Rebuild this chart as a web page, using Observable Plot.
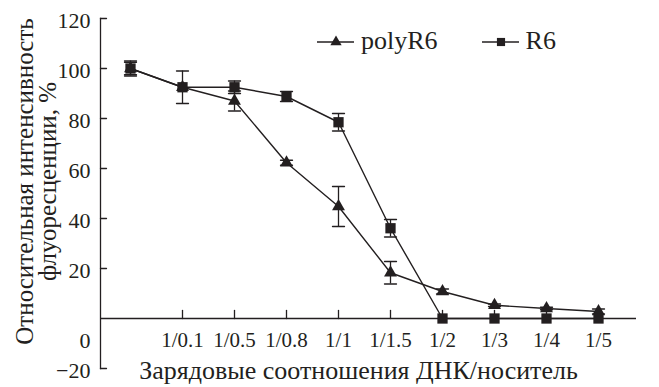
<!DOCTYPE html>
<html><head><meta charset="utf-8">
<script src="https://cdn.jsdelivr.net/npm/d3@7"></script>
<script src="https://cdn.jsdelivr.net/npm/@observablehq/plot@0.6"></script>
<style>
body{margin:0;background:#fff}
#wrap{position:relative;width:659px;height:387px;font-family:"Liberation Serif",serif;color:#231f20}
#legend{position:absolute;left:317px;top:27px;display:flex;align-items:center;font-size:26px;line-height:28px}
</style>
</head><body><div id="wrap"><div id="legend"></div></div>
<script>
const categories = ["0","1/0.1","1/0.5","1/0.8","1/1","1/1.5","1/2","1/3","1/4","1/5"];
const seriesNames = ["polyR6","R6"];
const polyR6 = [100, 92.5, 87, 62.3, 44.8, 18.3, 10.8, 5.3, 4, 2.8];
const polyR6Err = [2.5, 0, 4, 1, 8, 4.5, 1, 0.5, 0.5, 1];
const R6 = [100, 92.5, 92.5, 88.8, 78.5, 36.1, 0, 0, 0, 0];
const R6Err = [3, 6.5, 2.5, 2, 3.5, 3.5, 0, 0, 0, 0];
const yTicks = [120, 100, 80, 60, 40, 20, -20];
const xTickLabels = categories.slice(1);
const zeroLabel = ["0"];
const xTitle = "Зарядовые соотношения ДНК/носитель";
const yTitle = "Относительная интенсивность\nфлуоресценции, %";

const ink = "#231f20";
const rows = categories.flatMap((c, i) => [
  {cat: c, series: "polyR6", v: polyR6[i], e: polyR6Err[i]},
  {cat: c, series: "R6", v: R6[i], e: R6Err[i]}
]);
const errRows = rows.filter(d => d.e > 0);
const capShape = {draw(ctx) { ctx.moveTo(-6, 0); ctx.lineTo(6, 0); }};
const yTickShape = {draw(ctx) { ctx.moveTo(0, 0); ctx.lineTo(6, 0); }};
const xTickShape = {draw(ctx) { ctx.moveTo(0, 0); ctx.lineTo(0, -8); }};

const plot = Plot.plot({
  width: 659, height: 387,
  marginLeft: 100, marginRight: 23, marginTop: 18, marginBottom: 19,
  style: {fontFamily: "Liberation Serif", fontSize: "21px", color: ink, background: "white"},
  x: {type: "point", domain: categories, range: [100, 628], axis: null},
  y: {domain: [-20, 120], axis: null},
  marks: [
    Plot.frame({anchor: "left", stroke: ink, strokeWidth: 1.3}),
    Plot.ruleY([0], {stroke: ink, strokeWidth: 1.3}),
    Plot.vector(yTicks, {y: d => d, frameAnchor: "left", shape: yTickShape, anchor: "start", stroke: ink, strokeWidth: 1.3, length: 6}),
    Plot.text(yTicks, {y: d => d, frameAnchor: "left", text: d => d < 0 ? "\u2212" + Math.abs(d) : String(d), textAnchor: "end", dx: -10, dy: 2, fontSize: 22}),
    Plot.vector(xTickLabels, {x: d => d, y: () => 0, shape: xTickShape, anchor: "start", stroke: ink, strokeWidth: 1.3, length: 8}),
    Plot.text(xTickLabels, {x: d => d, frameAnchor: "bottom", lineAnchor: "middle", dy: -28, fontSize: 21}),
    Plot.text(zeroLabel, {frameAnchor: "bottom-left", lineAnchor: "middle", textAnchor: "end", dx: -10, dy: -28, fontSize: 22}),
    Plot.text([xTitle], {frameAnchor: "bottom", lineAnchor: "middle", textAnchor: "middle", dx: -10, dy: 2, fontSize: 26}),
    Plot.text([yTitle], {frameAnchor: "left", textAnchor: "middle", lineAnchor: "middle", rotate: -90, dx: -63, dy: -12, fontSize: 25, lineHeight: 0.92}),
    Plot.ruleX(errRows, {x: "cat", y1: d => d.v - d.e, y2: d => d.v + d.e, stroke: ink, strokeWidth: 1.3}),
    Plot.vector(errRows, {x: "cat", y: d => d.v - d.e, shape: capShape, anchor: "start", stroke: ink, strokeWidth: 1.3, length: 12}),
    Plot.vector(errRows, {x: "cat", y: d => d.v + d.e, shape: capShape, anchor: "start", stroke: ink, strokeWidth: 1.3, length: 12}),
    Plot.line(rows, {x: "cat", y: "v", z: "series", stroke: ink, strokeWidth: 1.4}),
    Plot.dot(rows.filter(d => d.series === "polyR6"), {x: "cat", y: "v", symbol: "triangle", r: 4.8, fill: ink, stroke: "none"}),
    Plot.dot(rows.filter(d => d.series === "R6"), {x: "cat", y: "v", symbol: "square", r: 5.8, fill: ink, stroke: "none"})
  ]
});
document.getElementById("wrap").prepend(plot);

// legend
const legend = d3.select("#legend");
const symbols = {polyR6: d3.symbolTriangle, R6: d3.symbolSquare};
const sizes = {polyR6: Math.PI * 4.2 * 4.2, R6: Math.PI * 4.6 * 4.6};
seriesNames.forEach((name, i) => {
  const sw = legend.append("svg").attr("width", 37).attr("height", 28)
    .style("margin-left", i === 0 ? "0px" : "44px");
  sw.append("line").attr("x1", 0).attr("x2", 37).attr("y1", 15).attr("y2", 15)
    .attr("stroke", ink).attr("stroke-width", 1.4);
  sw.append("path").attr("d", d3.symbol(symbols[name], sizes[name])())
    .attr("transform", "translate(19,15)").attr("fill", ink);
  legend.append("span").style("margin-left", "7px").text(name);
});
</script>
</body></html>
